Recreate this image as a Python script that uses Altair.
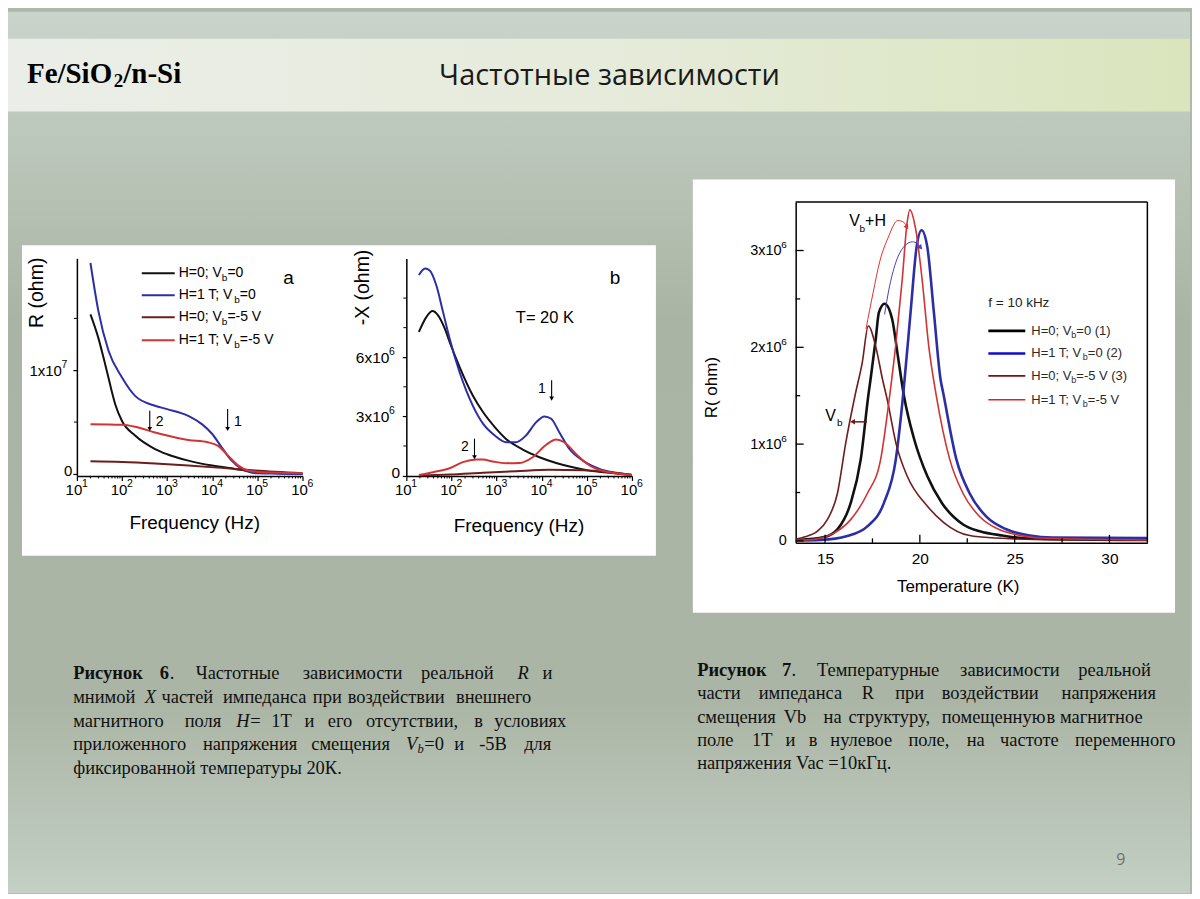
import json
import altair as alt
import pandas as pd

SANS = "Liberation Sans"
SERIF = "Liberation Serif"
HEAD = "Open Sans"

# ============================ DATA ============================
SERIES = ["H=0; Vb=0", "H=1 T; Vb=0", "H=0; Vb=-5 V", "H=1 T; Vb=-5 V"]

# --- Fig. 6a : real part R (ohm) vs frequency (Hz)
A_F_H0_V0 = [20, 30, 39, 50, 59, 71, 100, 195, 540, 1000, 2950, 10000, 31600, 100000, 1000000]
A_R_H0_V0 = [1.54e7, 1.31e7, 1.12e7, 0.93e7, 0.80e7, 0.67e7, 0.51e7, 0.37e7, 0.24e7, 0.19e7, 0.128e7, 0.08e7, 0.048e7, 0.016e7, 0.0]
A_F_H1_V0 = [20, 30, 50, 100, 195, 540, 1000, 2950, 5890, 10000, 16200, 26900, 44700, 100000, 316000, 1000000]
A_R_H1_V0 = [2.035e7, 1.57e7, 1.19e7, 0.93e7, 0.753e7, 0.657e7, 0.625e7, 0.56e7, 0.48e7, 0.385e7, 0.256e7, 0.128e7, 0.048e7, 0.006e7, 0.002e7, 0.0]
A_F_H0_V5 = [20, 100, 540, 2950, 15800, 89100, 1000000]
A_R_H0_V5 = [0.122e7, 0.115e7, 0.10e7, 0.08e7, 0.058e7, 0.032e7, 0.006e7]
A_F_H1_V5 = [20, 100, 195, 540, 1000, 2950, 7940, 13500, 22400, 38000, 63100, 126000, 1000000]
A_R_H1_V5 = [0.48e7, 0.474e7, 0.455e7, 0.40e7, 0.37e7, 0.327e7, 0.305e7, 0.27e7, 0.176e7, 0.08e7, 0.032e7, 0.016e7, 0.006e7]

# --- Fig. 6b : imaginary part -X (ohm) vs frequency (Hz)
B_F_H0_V0 = [19, 28, 38, 50, 71, 91, 151, 295, 500, 912, 1620, 3800, 8910, 20900, 49000, 115000, 316000, 1000000]
B_X_H0_V0 = [7.29e6, 8.05e6, 8.34e6, 8.14e6, 7.46e6, 6.78e6, 5.51e6, 4.07e6, 3.22e6, 2.46e6, 1.86e6, 1.32e6, 0.93e6, 0.64e6, 0.42e6, 0.25e6, 0.14e6, 0.03e6]
B_F_H1_V0 = [19, 26, 33, 46, 65, 91, 151, 295, 500, 912, 1620, 2690, 4470, 7590, 11500, 16200, 24500, 40700, 81300, 191000, 447000, 1000000]
B_X_H1_V0 = [10.17e6, 10.5e6, 10.4e6, 9.66e6, 8.3e6, 6.95e6, 5.25e6, 3.56e6, 2.63e6, 2.03e6, 1.69e6, 1.69e6, 2.03e6, 2.71e6, 3.0e6, 2.88e6, 2.2e6, 1.36e6, 0.76e6, 0.34e6, 0.14e6, 0.03e6]
B_F_H0_V5 = [19, 91, 500, 2690, 14800, 81300, 316000, 1000000]
B_X_H0_V5 = [0.0, 0.05e6, 0.14e6, 0.22e6, 0.29e6, 0.27e6, 0.17e6, 0.03e6]
B_F_H1_V5 = [19, 39, 91, 178, 355, 500, 832, 1620, 3240, 6310, 12600, 20900, 31600, 57500, 115000, 224000, 1000000]
B_X_H1_V5 = [0.03e6, 0.17e6, 0.37e6, 0.68e6, 0.81e6, 0.81e6, 0.71e6, 0.63e6, 0.64e6, 0.93e6, 1.56e6, 1.83e6, 1.69e6, 1.10e6, 0.51e6, 0.24e6, 0.03e6]

# --- Fig. 7 : R (ohm) vs temperature (K), f = 10 kHz
C_T_H0_V0 = [13.6, 14.95, 15.65, 16.35, 16.88, 17.3, 17.4, 17.67, 17.84, 18.14, 18.54, 18.84, 19.16, 19.7, 20.39, 21.17, 22.28, 23.16, 24.37, 25.4, 28.0, 32.0]
C_R_H0_V0 = [0.01e6, 0.04e6, 0.12e6, 0.39e6, 0.84e6, 1.53e6, 1.67e6, 2.08e6, 2.36e6, 2.45e6, 2.29e6, 1.91e6, 1.50e6, 1.05e6, 0.67e6, 0.39e6, 0.17e6, 0.10e6, 0.055e6, 0.03e6, 0.015e6, 0.01e6]
C_T_H1_V0 = [13.5, 14.8, 16.17, 17.23, 18.1, 18.73, 19.13, 19.51, 19.83, 20.09, 20.39, 20.74, 21.09, 21.23, 21.93, 22.63, 23.51, 24.56, 25.8, 27.0, 32.0]
C_R_H1_V0 = [0.005e6, 0.01e6, 0.05e6, 0.15e6, 0.39e6, 0.84e6, 1.53e6, 2.36e6, 3.04e6, 3.21e6, 3.04e6, 2.36e6, 1.67e6, 1.53e6, 0.84e6, 0.49e6, 0.25e6, 0.12e6, 0.055e6, 0.035e6, 0.03e6]
C_T_H0_V5 = [13.5, 13.9, 14.6, 15.12, 15.65, 16.09, 16.6, 16.96, 17.28, 17.67, 18.03, 18.28, 18.75, 19.33, 20.39, 21.26, 22.63, 24.0, 27.0, 32.0]
C_R_H0_V5 = [0.02e6, 0.04e6, 0.10e6, 0.22e6, 0.49e6, 1.01e6, 1.52e6, 1.84e6, 2.22e6, 2.01e6, 1.67e6, 1.46e6, 1.0e6, 0.67e6, 0.36e6, 0.19e6, 0.055e6, 0.03e6, 0.012e6, 0.01e6]
C_T_H1_V5 = [13.5, 14.5, 15.47, 16.35, 17.23, 17.93, 18.42, 18.72, 19.07, 19.33, 19.47, 19.78, 20.12, 20.47, 20.85, 21.58, 22.28, 23.16, 24.04, 25.09, 26.3, 32.0]
C_R_H1_V5 = [0.005e6, 0.02e6, 0.08e6, 0.22e6, 0.49e6, 0.84e6, 1.52e6, 2.01e6, 2.70e6, 3.29e6, 3.42e6, 3.22e6, 2.70e6, 2.01e6, 1.52e6, 0.84e6, 0.49e6, 0.25e6, 0.13e6, 0.065e6, 0.03e6, 0.01e6]

# --- annotation arrows (x, from, to)
A_ARROW_F = [412, 21900]
A_ARROW_FROM = [0.609e7, 0.625e7]
A_ARROW_TO = [0.433e7, 0.433e7]
B_ARROW_F = [16600, 324]
B_ARROW_FROM = [4.83e6, 1.87e6]
B_ARROW_TO = [3.90e6, 0.93e6]
C_ARC_RED_T = [17.16, 17.53, 17.89, 18.32, 18.84, 19.16, 19.32]
C_ARC_RED_R = [2.19e6, 2.56e6, 2.89e6, 3.13e6, 3.31e6, 3.29e6, 3.24e6]
C_ARC_BLUE_T = [18.14, 18.37, 18.72, 19.16, 19.6, 19.87, 20.04]
C_ARC_BLUE_R = [2.34e6, 2.60e6, 2.87e6, 3.04e6, 3.09e6, 3.07e6, 3.03e6]
C_VB_T = [17.21, 16.45]
C_VB_R = [1.23e6, 1.23e6]

# --- ticks and tick labels (mantissa + exponent)
X_LOG_TICKS = [10, 100, 1000, 10000, 100000, 1000000]
X_LOG_EXP = ["1", "2", "3", "4", "5", "6"]
X_LOG_MINOR = [m * 10 ** e for e in range(1, 6) for m in range(2, 10)]
A_Y_TICKS = [0, 10000000]
A_Y_LABELS = ["0", "1x10"]
A_Y_EXP_AT = [10000000]
A_Y_EXP = ["7"]
A_Y_MINOR = [5e6, 1.5e7]
B_Y_TICKS = [0, 3000000, 6000000]
B_Y_LABELS = ["0", "3x10", "6x10"]
B_Y_EXP_AT = [3000000, 6000000]
B_Y_EXP = ["6", "6"]
B_Y_MINOR = [1.5e6, 4.5e6, 7.5e6, 9e6]
C_X_TICKS = [15, 20, 25, 30]
C_X_LABELS = ["15", "20", "25", "30"]
C_X_MINOR = [17.5, 22.5, 27.5]
C_Y_TICKS = [0, 1000000, 2000000, 3000000]
C_Y_LABELS = ["0", "1x10", "2x10", "3x10"]
C_Y_EXP_AT = [1000000, 2000000, 3000000]
C_Y_EXP = ["6", "6", "6"]
C_Y_MINOR = [0.5e6, 1.5e6, 2.5e6]

# ============================ STYLE / LAYOUT ============================
COLORS_AB = ["#111111", "#2b2fa6", "#6e1c1c", "#d03434"]
WIDTHS_AB = [2.0, 2.0, 2.0, 2.0]
COLORS_C = ["#000000", "#0c0cd0", "#7a1212", "#e02020"]
WIDTHS_C = [2.6, 2.6, 1.6, 1.6]

M = 8  # html page margin: reference pixel -> svg pixel


def P(v):
    return v - M


PAGE_W, PAGE_H = 1184, 883
A_X0, A_W, A_TOP, A_BOT = 69.0, 226.0, 247.0, 465.0
B_X0, B_W, B_TOP, B_BOT = 398.7, 226.0, 247.3, 465.0
C_X0, C_W, C_TOP, C_BOT = 787.7, 352.3, 190.7, 532.0

ONE = pd.DataFrame({"k": [0]})

AXIS_BASE = dict(domainColor="#000000", domainWidth=1.5, tickColor="#000000", tickWidth=1.2,
                 labelColor="#000000", labelFont=SANS, titleFont=SANS, titleColor="#000000",
                 titleFontWeight="normal", grid=False, labelFlush=False, labelOverlap=False)


def lbl_expr(ticks, labels):
    return "%s[indexof(%s, datum.value)]" % (json.dumps(labels, ensure_ascii=False),
                                             json.dumps([float(t) for t in ticks]))


def long_df(groups, widths):
    rows = []
    for (name, xs, ys), w in zip(groups, widths):
        for i, (x, y) in enumerate(zip(xs, ys)):
            rows.append({"s": name, "x": x, "y": y, "o": i, "w": w})
    return pd.DataFrame(rows)


def x_log(w, tx, ty):
    return alt.X("x:Q",
                 scale=alt.Scale(type="log", domain=[10, 1e6], range=[0, w], nice=False),
                 axis=alt.Axis(values=X_LOG_TICKS, labelExpr="'10'", labelOffset=-3.5,
                               labelFontSize=15, labelPadding=2, tickSize=4.5,
                               title="Frequency (Hz)", titleFontSize=19, titleX=tx, titleY=ty,
                               titleAngle=0, titleAlign="center", titleBaseline="middle", **AXIS_BASE))


def y_lin(domain, bot, top, ticks, labels, pad0, pad, fsize, title, tsize, tx, ty, ticks_on=True, off0=0):
    extra = dict(tickSize=4) if ticks_on else dict(ticks=False)
    if off0:
        extra["labelOffset"] = {"condition": {"test": "datum.value == 0", "value": off0}, "value": 0}
    return alt.Y("y:Q",
                 scale=alt.Scale(domain=domain, range=[bot, top], nice=False, zero=False),
                 axis=alt.Axis(values=ticks, labelExpr=lbl_expr(ticks, labels), labelFontSize=fsize,
                               labelPadding={"condition": {"test": "datum.value == 0", "value": pad0},
                                             "value": pad},
                               title=title, titleFontSize=tsize, titleX=tx, titleY=ty, titleAngle=270,
                               titleAlign="center", titleBaseline="middle", **extra, **AXIS_BASE))


def y_exponents(ye, at, exps, xpos, dy, fs):
    return alt.Chart(pd.DataFrame({"y": at, "e": exps})).mark_text(
        align="left", baseline="middle", font=SANS, fontSize=fs, dy=dy, color="#000000").encode(
        y=ye, x=alt.value(xpos), text="e:N")


def freq_panel(df, xe, ye, colors, minor_y, arr_f, arr_from, arr_to, w, bot, y_exp_layer):
    lines = alt.Chart(df).mark_line(interpolate="monotone").encode(
        x=xe, y=ye,
        color=alt.Color("s:N", scale=alt.Scale(domain=SERIES, range=colors), legend=None),
        strokeWidth=alt.StrokeWidth("w:Q", scale=None, legend=None),
        order="o:Q")
    xminor = alt.Chart(pd.DataFrame({"x": X_LOG_MINOR})).mark_rule(color="#000000", strokeWidth=1).encode(
        x=xe, y=alt.value(bot), y2=alt.value(bot + 2.5))
    yminor = alt.Chart(pd.DataFrame({"y": minor_y})).mark_rule(color="#000000", strokeWidth=1).encode(
        y=ye, x=alt.value(-3), x2=alt.value(0))
    xexp = alt.Chart(pd.DataFrame({"x": X_LOG_TICKS, "e": X_LOG_EXP})).mark_text(
        align="left", baseline="middle", font=SANS, fontSize=10.5, dx=5, color="#000000").encode(
        x=xe, y=alt.value(bot + 8), text="e:N")
    shafts = alt.Chart(pd.DataFrame({"x": arr_f, "y": arr_from, "y2": arr_to})).mark_rule(
        color="#000000", strokeWidth=1.1).encode(x=xe, y=ye, y2="y2:Q")
    heads = alt.Chart(pd.DataFrame({"x": arr_f, "y": arr_to})).mark_point(
        shape="triangle-down", filled=True, size=22, color="#000000", opacity=1).encode(x=xe, y=ye)
    return alt.layer(lines, xminor, yminor, xexp, y_exp_layer, shafts, heads).properties(width=w, height=bot)


# ---------------- panel a ----------------
df_a = long_df([(SERIES[0], A_F_H0_V0, A_R_H0_V0), (SERIES[1], A_F_H1_V0, A_R_H1_V0),
                (SERIES[2], A_F_H0_V5, A_R_H0_V5), (SERIES[3], A_F_H1_V5, A_R_H1_V5)], WIDTHS_AB)
xa = x_log(A_W, 117.5, 47)
ya = y_lin([-2e5, 2.08e7], A_BOT, A_TOP, A_Y_TICKS, A_Y_LABELS, 1, 11.5, 15, "R (ohm)", 19.5, -40, 281,
           off0=-3.5)
chart_a = freq_panel(df_a, xa, ya, COLORS_AB, A_Y_MINOR, A_ARROW_F, A_ARROW_FROM, A_ARROW_TO, A_W, A_BOT,
                     y_exponents(ya, A_Y_EXP_AT, A_Y_EXP, -15.3, -5.5, 10.5))

# ---------------- panel b ----------------
df_b = long_df([(SERIES[0], B_F_H0_V0, B_X_H0_V0), (SERIES[1], B_F_H1_V0, B_X_H1_V0),
                (SERIES[2], B_F_H0_V5, B_X_H0_V5), (SERIES[3], B_F_H1_V5, B_X_H1_V5)], WIDTHS_AB)
xb = x_log(B_W, 112.3, 50)
yb = y_lin([-2e4, 11.0e6], B_BOT, B_TOP, B_Y_TICKS, B_Y_LABELS, 2.7, 13.5, 15.5, "-X (ohm)", 19.5, -43.7, 275.7,
           off0=-3.5)
chart_b = freq_panel(df_b, xb, yb, COLORS_AB, B_Y_MINOR, B_ARROW_F, B_ARROW_FROM, B_ARROW_TO, B_W, B_BOT,
                     y_exponents(yb, B_Y_EXP_AT, B_Y_EXP, -17.3, -5.5, 10.5))

# ---------------- panel c ----------------
df_c = long_df([(SERIES[0], C_T_H0_V0, C_R_H0_V0), (SERIES[1], C_T_H1_V0, C_R_H1_V0),
                (SERIES[2], C_T_H0_V5, C_R_H0_V5), (SERIES[3], C_T_H1_V5, C_R_H1_V5)], WIDTHS_C)
xc = alt.X("x:Q", scale=alt.Scale(domain=[13.45, 32], range=[0, C_W], nice=False, zero=False),
           axis=alt.Axis(values=C_X_TICKS, labelExpr=lbl_expr(C_X_TICKS, C_X_LABELS), ticks=False,
                         labelPadding=8.5, labelFontSize=15.5, title="Temperature (K)", titleFontSize=17,
                         titleX=162.3, titleY=44, titleAngle=0, titleAlign="center",
                         titleBaseline="middle", **AXIS_BASE))
yc = y_lin([-2e4, 3.5e6], C_BOT, C_TOP, C_Y_TICKS, C_Y_LABELS, 9.5, 14.6, 14.5, "R( ohm)", 17, -84, 376,
           ticks_on=False)

lines_c = alt.Chart(df_c).mark_line(interpolate="monotone").encode(
    x=xc, y=yc,
    color=alt.Color("s:N", scale=alt.Scale(domain=SERIES, range=COLORS_C), legend=None),
    strokeWidth=alt.StrokeWidth("w:Q", scale=None, legend=None),
    order="o:Q")
arc_red = alt.Chart(pd.DataFrame({"x": C_ARC_RED_T, "y": C_ARC_RED_R})).mark_line(
    color="#e03030", strokeWidth=1, interpolate="monotone").encode(x=xc, y=yc)
arc_red_head = alt.Chart(pd.DataFrame({"x": C_ARC_RED_T[-1:], "y": C_ARC_RED_R[-1:]})).mark_point(
    shape="triangle-right", angle=58, filled=True, size=30, color="#e03030", opacity=1).encode(x=xc, y=yc)
arc_blue = alt.Chart(pd.DataFrame({"x": C_ARC_BLUE_T, "y": C_ARC_BLUE_R})).mark_line(
    color="#4a3fb5", strokeWidth=1, interpolate="monotone").encode(x=xc, y=yc)
arc_blue_head = alt.Chart(pd.DataFrame({"x": C_ARC_BLUE_T[-1:], "y": C_ARC_BLUE_R[-1:]})).mark_point(
    shape="triangle-right", angle=50, filled=True, size=30, color="#4a3fb5", opacity=1).encode(x=xc, y=yc)
vb_line = alt.Chart(pd.DataFrame({"x": C_VB_T, "y": C_VB_R})).mark_line(
    color="#7a1212", strokeWidth=1.5).encode(x=xc, y=yc)
vb_head = alt.Chart(pd.DataFrame({"x": C_VB_T[-1:], "y": C_VB_R[-1:]})).mark_point(
    shape="triangle-left", filled=True, size=30, color="#7a1212", opacity=1).encode(x=xc, y=yc)
frame_top = alt.Chart(ONE).mark_rule(color="#000000", strokeWidth=1.5).encode(
    x=alt.value(0), x2=alt.value(C_W), y=alt.value(C_TOP))
frame_right = alt.Chart(ONE).mark_rule(color="#000000", strokeWidth=1.5).encode(
    x=alt.value(C_W), y=alt.value(C_TOP), y2=alt.value(C_BOT))
cx_major = alt.Chart(pd.DataFrame({"x": C_X_TICKS})).mark_rule(color="#000000", strokeWidth=1.3).encode(
    x=xc, y=alt.value(C_BOT), y2=alt.value(C_BOT - 8))
cx_minor = alt.Chart(pd.DataFrame({"x": C_X_MINOR})).mark_rule(color="#000000", strokeWidth=1.3).encode(
    x=xc, y=alt.value(C_BOT), y2=alt.value(C_BOT - 4.5))
cy_major = alt.Chart(pd.DataFrame({"y": C_Y_TICKS})).mark_rule(color="#000000", strokeWidth=1.3).encode(
    y=yc, x=alt.value(0), x2=alt.value(8))
cy_minor = alt.Chart(pd.DataFrame({"y": C_Y_MINOR})).mark_rule(color="#000000", strokeWidth=1.3).encode(
    y=yc, x=alt.value(0), x2=alt.value(4.5))
cy_exp = y_exponents(yc, C_Y_EXP_AT, C_Y_EXP, -14.4, -5.5, 10)
chart_c = alt.layer(lines_c, arc_red, arc_red_head, arc_blue, arc_blue_head, vb_line, vb_head,
                    frame_top, frame_right, cx_major, cx_minor, cy_major, cy_minor, cy_exp).properties(
    width=C_W, height=C_BOT)

# ---------------- page decoration: background, header, panels, texts ----------------
AW = {" ": 278, "=": 584, ";": 278, "-": 333, "(": 333, ")": 333, "0": 556, "1": 556, "2": 556,
      "3": 556, "5": 556, "H": 722, "T": 611, "V": 667, "b": 556}


def arial_w(s, fs):
    return sum(AW.get(ch, 556) for ch in s) * fs / 1000.0


TEXT_ROWS = []
RULE_ROWS = []


def add(x, y, t, fs, st="sans", c="#000000"):
    TEXT_ROWS.append(dict(x=P(x), y=P(y), t=t, fs=fs, st=st, c=c))


def add_pieces(parts, x0, y, fs, sub_fs, sub_dy, c):
    x = x0
    for t, sub in parts:
        f = sub_fs if sub else fs
        add(x, y + (sub_dy if sub else 0), t, f, "sans", c)
        x += arial_w(t, f)


LEG_AB = [[("H=0; V", 0), ("b", 1), ("=0", 0)], [("H=1 T; V", 0), ("b", 1), ("=0", 0)],
          [("H=0; V", 0), ("b", 1), ("=-5 V", 0)], [("H=1 T; V", 0), ("b", 1), ("=-5 V", 0)]]
LEG_C = [[("H=0; V", 0), ("b", 1), ("=0 (1)", 0)], [("H=1 T; V", 0), ("b", 1), ("=0 (2)", 0)],
         [("H=0; V", 0), ("b", 1), ("=-5 V (3)", 0)], [("H=1 T; V", 0), ("b", 1), ("=-5 V", 0)]]

for parts, yy, col in zip(LEG_AB, [270, 292, 314, 337], COLORS_AB):
    RULE_ROWS.append(dict(x=P(142), x2=P(175), y=P(yy), c=col, w=2.0))
    add_pieces(parts, 179, yy, 14, 10, 4.5, "#000000")
for parts, yy, col, w in zip(LEG_C, [327.7, 350.3, 372.7, 396.7], COLORS_C, WIDTHS_C):
    RULE_ROWS.append(dict(x=P(990), x2=P(1027), y=P(yy), c=col, w=w))
    add_pieces(parts, 1033, yy, 13, 9, 4, "#2a2a2a")

# header
add(27, 70.5, "Fe/SiO", 29, "serifB")
add(114, 77.5, "2", 19, "serifB")
add(123.5, 70.5, "/n-Si", 29, "serifB")
add(610.5, 72, "Частотные зависимости", 29, "headC", "#1a1a1a")
add(1118, 858, "9", 16, "head", "#707070")

# in-plot annotations
add(283.7, 275, "a", 19)
add(610.7, 275, "b", 19)
add(516.7, 315, "T= 20 K", 16.5)
add(156, 419, "2", 14)
add(234.3, 419, "1", 14)
add(539, 386, "1", 14)
add(461.7, 443.7, "2", 14)
add(850.7, 217.7, "V", 16)
add(861, 226, "b", 10)
add(866.5, 217.7, "+H", 16)
add(826.7, 412.7, "V", 16)
add(838.3, 420, "b", 10)
add(990, 300, "f = 10 kHz", 13.5, "sans", "#222222")

# captions (word starts reproduce the justified layout)
CAP = 18.5
CAP_C = "#111111"
CAPTION_LINES = [
    (670, [(73.3, "Рисунок", "serifB"), (160, "6", "serifB"), (170, ".", "serif"), (196, "Частотные", "serif"),
           (303.3, "зависимости", "serif"), (421.7, "реальной", "serif"), (518.3, "R", "serifI"),
           (543.3, "и", "serif")]),
    (694, [(73.3, "мнимой", "serif"), (145, "X", "serifI"), (161.7, "частей", "serif"),
           (223.3, "импеданса", "serif"), (313.3, "при", "serif"), (348.3, "воздействии", "serif"),
           (456.7, "внешнего", "serif")]),
    (718, [(73.3, "магнитного", "serif"), (185, "поля", "serif"), (236.7, "H", "serifI"), (250.7, "=", "serif"),
           (271.7, "1Т", "serif"), (305, "и", "serif"), (328.3, "его", "serif"), (366.7, "отсутствии,", "serif"),
           (475, "в", "serif"), (495, "условиях", "serif")]),
    (742, [(73.3, "приложенного", "serif"), (203.3, "напряжения", "serif"), (311.7, "смещения", "serif"),
           (406.7, "V", "serifI"), (418.3, "b", "serifI", 12.5, 5), (425, "=0", "serif"), (455, "и", "serif"),
           (480, "-5В", "serif"), (525, "для", "serif")]),
    (766, [(73.3, "фиксированной температуры 20К.", "serif")]),
    (667, [(698.3, "Рисунок", "serifB"), (783.3, "7", "serifB"), (792.7, ".", "serif"),
           (818.3, "Температурные", "serif"), (961.7, "зависимости", "serif"), (1080, "реальной", "serif")]),
    (690.5, [(698.3, "части", "serif"), (760, "импеданса", "serif"), (863.3, "R", "serif"), (896.7, "при", "serif"),
             (943.3, "воздействии", "serif"), (1063.3, "напряжения", "serif")]),
    (714, [(698.3, "смещения", "serif"), (785, "Vb", "serif"), (825, "на", "serif"), (850, "структуру,", "serif"),
           (943.3, "помещенную", "serif"), (1048.3, "в", "serif"), (1061.7, "магнитное", "serif")]),
    (737.5, [(698.3, "поле", "serif"), (753.3, "1Т", "serif"), (786.7, "и", "serif"), (810, "в", "serif"),
             (831.7, "нулевое", "serif"), (910, "поле,", "serif"), (968.3, "на", "serif"),
             (1001.7, "частоте", "serif"), (1076.7, "переменного", "serif")]),
    (761, [(698.3, "напряжения Vac =10кГц.", "serif")]),
]
for yy, words in CAPTION_LINES:
    for item in words:
        if len(item) == 5:
            add(item[0], yy + item[4], item[1], item[3], item[2], CAP_C)
        else:
            add(item[0], yy, item[1], CAP, item[2], CAP_C)

TXT = pd.DataFrame(TEXT_ROWS)
RULES = pd.DataFrame(RULE_ROWS)

PAGE_GRAD = alt.LinearGradient(gradient="linear", x1=0, y1=0, x2=0, y2=1, stops=[
    alt.GradientStop(color="#cad4cb", offset=0), alt.GradientStop(color="#bcc7bb", offset=0.15),
    alt.GradientStop(color="#a9b4a4", offset=0.35), alt.GradientStop(color="#aab5a5", offset=0.78),
    alt.GradientStop(color="#c4cfc5", offset=1)])
BAND_GRAD = alt.LinearGradient(gradient="linear", x1=0, y1=0, x2=1, y2=0, stops=[
    alt.GradientStop(color="#ebeee8", offset=0), alt.GradientStop(color="#e6ebdb", offset=0.5),
    alt.GradientStop(color="#dae5bd", offset=1)])


def rect(x1, y1, x2, y2, fill):
    return alt.Chart(ONE).mark_rect(fill=fill).encode(
        x=alt.value(x1), x2=alt.value(x2), y=alt.value(y1), y2=alt.value(y2))


decor_layers = [
    rect(0, 0, PAGE_W, PAGE_H, PAGE_GRAD),
    rect(0, P(35), PAGE_W, P(108), BAND_GRAD),
    rect(P(22), P(242), P(657), P(553), "#ffffff"),
    rect(P(694), P(176), P(1177), P(610), "#ffffff"),
    alt.Chart(RULES).mark_rule().encode(
        x=alt.X("x:Q", scale=None, axis=None), x2="x2:Q",
        y=alt.Y("y:Q", scale=None, axis=None),
        color=alt.Color("c:N", scale=None),
        strokeWidth=alt.StrokeWidth("w:Q", scale=None)),
]
STYLES = {
    "sans": dict(font=SANS, align="left"),
    "serif": dict(font=SERIF, align="left"),
    "serifB": dict(font=SERIF, fontWeight="bold", align="left"),
    "serifI": dict(font=SERIF, fontStyle="italic", align="left"),
    "head": dict(font=HEAD, align="left"),
    "headC": dict(font=HEAD, align="center"),
}
for st, props in STYLES.items():
    d = TXT[TXT.st == st]
    if len(d):
        decor_layers.append(alt.Chart(d).mark_text(baseline="middle", **props).encode(
            x=alt.X("x:Q", scale=None, axis=None),
            y=alt.Y("y:Q", scale=None, axis=None),
            text="t:N",
            size=alt.Size("fs:Q", scale=None),
            color=alt.Color("c:N", scale=None)))

decor = alt.layer(*decor_layers).properties(width=A_X0, height=PAGE_H)


def gap(w):
    return alt.Chart(ONE).mark_point(opacity=0).encode(x=alt.value(0), y=alt.value(0)).properties(
        width=w, height=10)


chart = alt.hconcat(decor, chart_a, gap(B_X0 - A_X0 - A_W), chart_b, gap(C_X0 - B_X0 - B_W), chart_c,
                    gap(PAGE_W - C_X0 - C_W), spacing=0, bounds="flush").properties(
    padding=0).configure(background="#aeb9ab").configure_view(strokeWidth=0)

chart.save("out.html", embed_options={"renderer": "svg", "actions": False})
